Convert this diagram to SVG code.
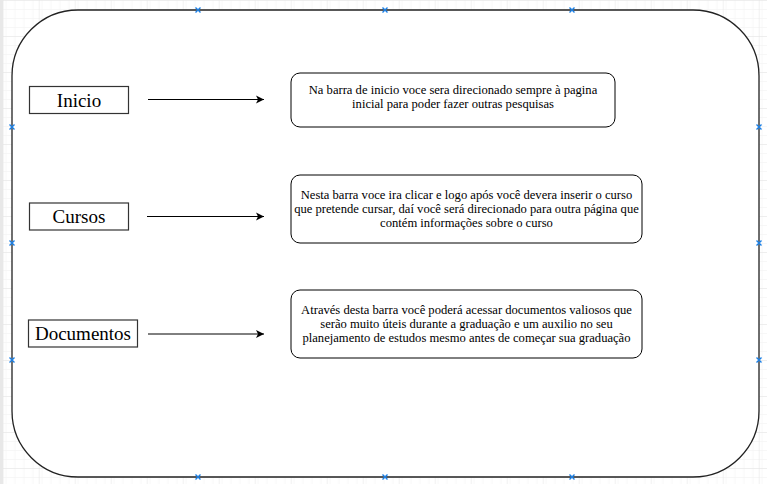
<svg xmlns="http://www.w3.org/2000/svg" width="767" height="484" viewBox="0 0 767 484">
<defs>
<pattern id="gMinor" width="9" height="9" patternUnits="userSpaceOnUse" x="2.7" y="0">
<path d="M9 0H0V9" fill="none" stroke="#f0f0f0" stroke-width="1"/>
</pattern>
<pattern id="gMajor" width="36" height="36" patternUnits="userSpaceOnUse" x="2.7" y="0">
<rect width="36" height="36" fill="url(#gMinor)"/>
<path d="M36 0H0V36" fill="none" stroke="#e4e4e4" stroke-width="1"/>
</pattern>
<marker id="arr" markerWidth="10" markerHeight="10" refX="9" refY="5" orient="auto" markerUnits="userSpaceOnUse">
<path d="M1 1 L9 5 L1 9 L3 5 Z" fill="#000"/>
</marker>
<path id="xm" d="M-2.5 -2.5L2.5 2.5M-2.5 2.5L2.5 -2.5" stroke="#1a7fe6" stroke-width="1.4" fill="none"/>
</defs>
<style>
.lbl{fill:#fff;stroke:#333;stroke-width:1.2}
.box{fill:#fff;stroke:#000;stroke-width:1}
.t1{font-family:"Liberation Serif","Times New Roman",serif;font-size:19px;fill:#000;text-anchor:middle}
.t2{font-family:"Liberation Serif","Times New Roman",serif;font-size:12.6px;fill:#000;text-anchor:middle}
.edge{stroke:#000;stroke-width:1;fill:none;marker-end:url(#arr)}
</style>
<rect width="767" height="484" fill="#fff"/>
<rect width="767" height="484" fill="url(#gMajor)"/>
<rect x="0" y="0" width="3" height="484" fill="#e8e8e8"/>
<g id="container">
<rect x="12" y="10" width="747" height="467" rx="66" ry="66" fill="#fff" stroke="#222" stroke-width="1.3"/>
<use href="#xm" x="198" y="10"/><use href="#xm" x="385" y="10"/><use href="#xm" x="572" y="10"/>
<use href="#xm" x="198" y="477"/><use href="#xm" x="385" y="477"/><use href="#xm" x="572" y="477"/>
<use href="#xm" x="12" y="127"/><use href="#xm" x="12" y="243"/><use href="#xm" x="12" y="360"/>
<use href="#xm" x="759" y="127"/><use href="#xm" x="759" y="243"/><use href="#xm" x="759" y="360"/>
</g>
<g id="inicio">
<rect class="lbl" x="29.5" y="86.5" width="99" height="27"/>
<text class="t1" x="79" y="106.5">Inicio</text>
</g>
<g id="cursos">
<rect class="lbl" x="29.5" y="203" width="99" height="27"/>
<text class="t1" x="79" y="223">Cursos</text>
</g>
<g id="documentos">
<rect class="lbl" x="28.5" y="320" width="109" height="27"/>
<text class="t1" x="83" y="340">Documentos</text>
</g>
<g id="desc1">
<rect class="box" x="291" y="73" width="324" height="54" rx="9"/>
<text class="t2" x="453" y="93.5">Na barra de inicio voce sera direcionado sempre à pagina</text>
<text class="t2" x="453" y="107.5">inicial para poder fazer outras pesquisas</text>
</g>
<g id="desc2">
<rect class="box" x="291" y="175" width="351" height="68" rx="9"/>
<text class="t2" x="466.5" y="199">Nesta barra voce ira clicar e logo após você devera inserir o curso</text>
<text class="t2" x="466.5" y="213">que pretende cursar, daí você será direcionado para outra página que</text>
<text class="t2" x="466.5" y="227">contém informações sobre o curso</text>
</g>
<g id="desc3">
<rect class="box" x="291" y="290" width="351" height="68" rx="9"/>
<text class="t2" x="466.5" y="314">Através desta barra você poderá acessar documentos valiosos que</text>
<text class="t2" x="466.5" y="328">serão muito úteis durante a graduação e um auxilio no seu</text>
<text class="t2" x="466.5" y="342">planejamento de estudos mesmo antes de começar sua graduação</text>
</g>
<g id="connectors">
<line class="edge" x1="148" y1="99.5" x2="264" y2="99.5"/>
<line class="edge" x1="147" y1="216.5" x2="264" y2="216.5"/>
<line class="edge" x1="148" y1="334" x2="264" y2="334"/>
</g>
</svg>
